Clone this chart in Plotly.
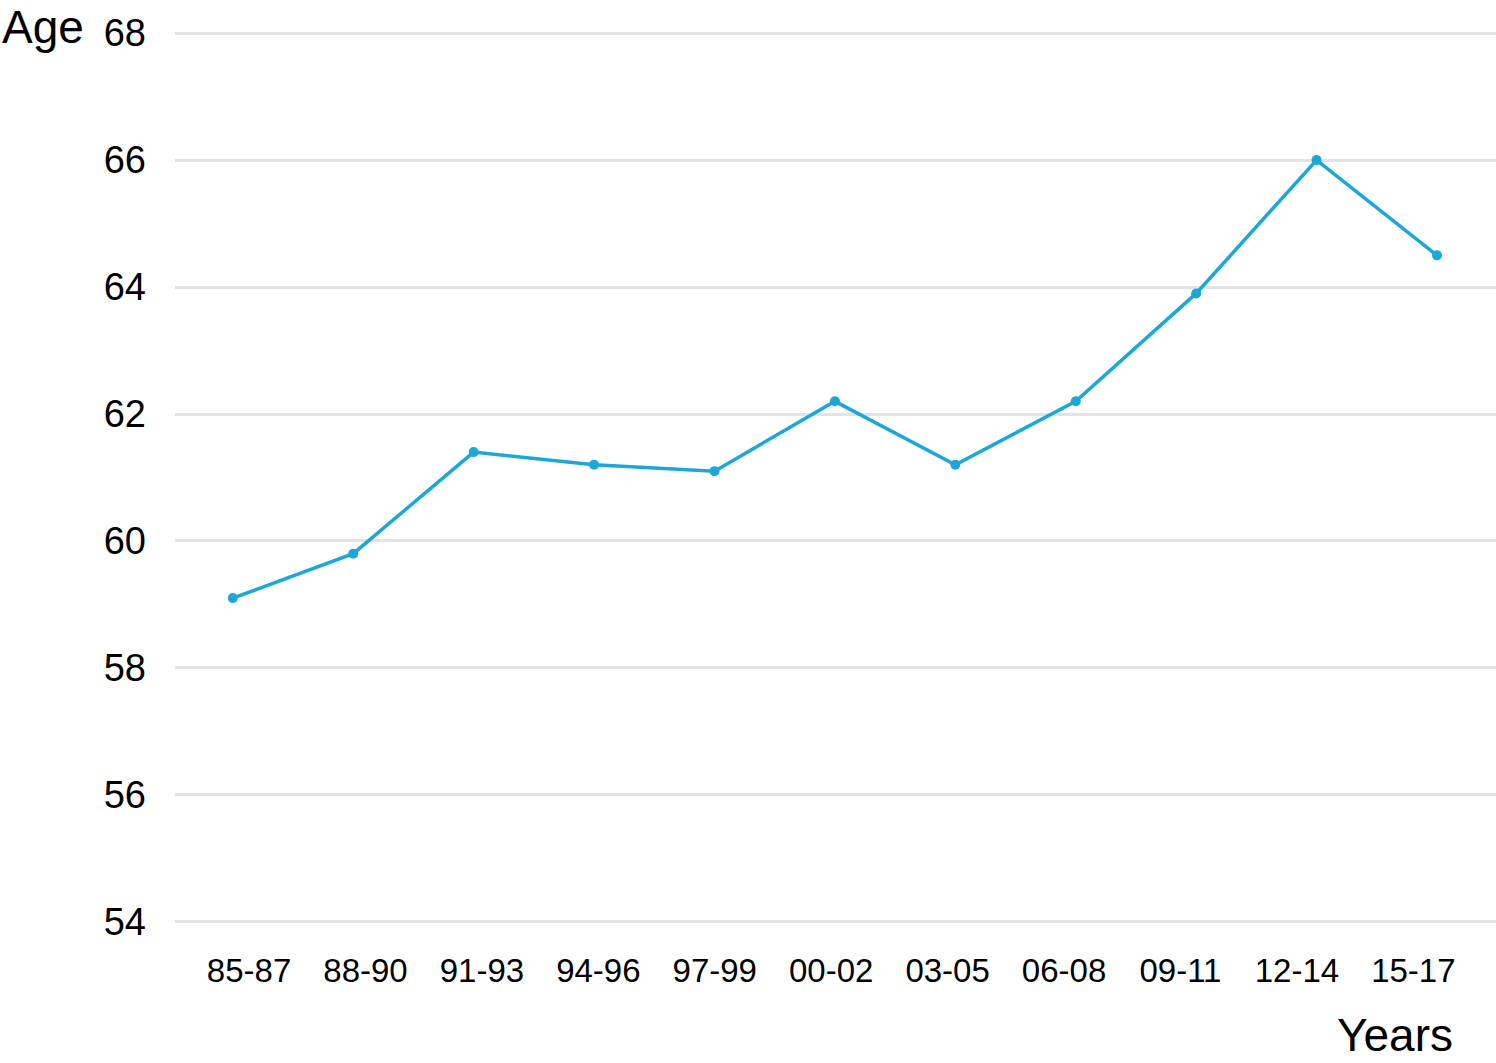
import plotly.graph_objects as go

periods = ["85-87", "88-90", "91-93", "94-96", "97-99", "00-02",
           "03-05", "06-08", "09-11", "12-14", "15-17"]
ages = [59.1, 59.8, 61.4, 61.2, 61.1, 62.2, 61.2, 62.2, 63.9, 66.0, 64.5]
y_ticks = [54, 56, 58, 60, 62, 64, 66, 68]

FONT = "Liberation Sans, Arial, Helvetica, sans-serif"
BLUE = "#1ba8d8"
W, H = 1496, 1063
L, R, T, B = 175, 0, 30, 138

fig = go.Figure()
fig.add_trace(go.Scatter(
    x=periods, y=ages, mode="lines+markers",
    line=dict(color=BLUE, width=3.5),
    marker=dict(color=BLUE, size=10),
    showlegend=False, hoverinfo="x+y",
))
# invisible copy only to carry the category labels on the offset axis
fig.add_trace(go.Scatter(
    x=periods, y=ages, xaxis="x2", mode="markers",
    marker=dict(opacity=0), showlegend=False, hoverinfo="skip",
))

fig.update_layout(
    width=W, height=H,
    margin=dict(l=L, r=R, t=T, b=B),
    plot_bgcolor="white", paper_bgcolor="white",
    font=dict(family=FONT, color="black"),
    xaxis=dict(
        type="category", range=[-0.48, 10.49],
        showticklabels=False, showgrid=False, zeroline=False,
        showline=False, ticks="",
    ),
    xaxis2=dict(
        type="category", overlaying="x", side="bottom",
        range=[-0.636, 10.71],
        showgrid=False, zeroline=False, showline=False, ticks="",
        tickfont=dict(size=33, family=FONT, color="black"),
        ticklabelstandoff=23,
    ),
    yaxis=dict(
        range=[53.95, 68.05], tickvals=y_ticks,
        showgrid=True, gridcolor="#e3e3e3", gridwidth=2.5,
        zeroline=False, showline=False, ticks="",
        tickfont=dict(size=38, family=FONT, color="black"),
        ticklabelstandoff=28,
    ),
)

# axis titles placed in pixel terms of the plot area
pw, ph = W - L - R, H - T - B
fig.add_annotation(text="Age", showarrow=False, font=dict(size=46, family=FONT),
                   xref="paper", yref="paper",
                   x=(0 - L) / pw, y=(H - B - 27) / ph,
                   xanchor="left", yanchor="middle")
fig.add_annotation(text="Years", showarrow=False, font=dict(size=46, family=FONT),
                   xref="paper", yref="paper",
                   x=(1455 - L) / pw, y=(H - B - 1035) / ph,
                   xanchor="right", yanchor="middle")

fig.write_html("out.html", config={"displayModeBar": False},
               post_script="document.body.style.margin='0';")
